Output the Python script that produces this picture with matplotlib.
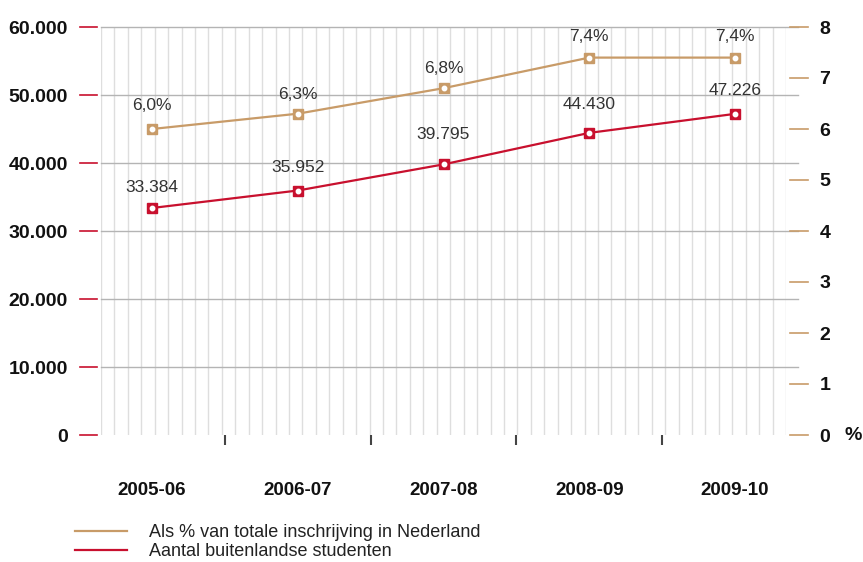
import numpy as np
import matplotlib
matplotlib.use('Agg')
import matplotlib.pyplot as plt
import matplotlib.transforms as mtransforms

plt.rcParams['font.family'] = ['Liberation Sans', 'DejaVu Sans']

# data
years = ['2005-06', '2006-07', '2007-08', '2008-09', '2009-10']
students = [33384, 35952, 39795, 44430, 47226]  # aantal buitenlandse studenten
percent = [6.0, 6.3, 6.8, 7.4, 7.4]  # als % van totale inschrijving
left_ticks = [0, 10000, 20000, 30000, 40000, 50000, 60000]
right_ticks = [0, 1, 2, 3, 4, 5, 6, 7, 8]

red = '#c8102e'
tan = '#c89b68'
gridgray = '#b4b4b4'
vgray = '#dedede'
textgray = '#333333'

# label offsets above points (pixels)
red_off = [20, 23, 30, 28, 23]
tan_off = [24, 19, 20, 21, 21]

def nl_thousands(v):
    return '{:,}'.format(int(v)).replace(',', '.')

def nl_pct(v):
    return '{:.1f}%'.format(v).replace('.', ',')

fig = plt.figure(figsize=(8.63, 5.62), dpi=100)
ax = fig.add_axes([101/863, 1-435/562, 685/863, 408/562])
ax2 = ax.twinx()

x = np.arange(len(years))
ax.set_xlim(-0.35, 4.35)
ax.set_ylim(0, 60000)
ax2.set_ylim(0, 8)

for s in ['top', 'bottom', 'left', 'right']:
    ax.spines[s].set_visible(False)
    ax2.spines[s].set_visible(False)

# light vertical grid
for gx in np.linspace(-0.35, 4.35, 52):
    ax.plot([gx, gx], [0, 60000], color=vgray, lw=1, zorder=0)

# horizontal grid, extends a little past the right edge
bt = mtransforms.blended_transform_factory(ax.transAxes, ax.transData)
for t in left_ticks[1:]:
    ax.plot([0, 1.0175], [t, t], color=gridgray, lw=1, transform=bt, clip_on=False, zorder=1)

# left ticks (red, detached from the plot)
for t in left_ticks:
    ax.plot([-0.0307, -0.0058], [t, t], color=red, lw=1.2, transform=bt, clip_on=False)
ax.set_yticks(left_ticks)
ax.set_yticklabels([nl_thousands(t) if t else '0' for t in left_ticks],
                   fontsize=14, fontweight='bold', color='#111111')
ax.tick_params(axis='y', length=0, pad=24)

# right ticks (tan)
bt2 = mtransforms.blended_transform_factory(ax2.transAxes, ax2.transData)
for t in right_ticks:
    ax2.plot([1.0058, 1.032], [t, t], color=tan, lw=1.2, transform=bt2, clip_on=False)
ax2.set_yticks(right_ticks)
ax2.set_yticklabels([str(t) for t in right_ticks], fontsize=14, fontweight='bold', color='#111111')
ax2.tick_params(axis='y', length=0, pad=24)
ax2.text(1.0855, 0, '%', transform=bt2, fontsize=14, fontweight='bold', va='center', ha='left',
         color='#111111')

# category axis
ax.set_xticks(x)
ax.set_xticklabels(years, fontsize=13.5, fontweight='bold', color='#111111')
ax.set_xticks(x[:-1] + 0.5, minor=True)
ax.tick_params(axis='x', which='major', length=0, pad=34)
ax.tick_params(axis='x', which='minor', length=7, width=1.5, color='#444444', direction='out')

# series
l_red, = ax.plot(x, students, color=red, lw=1.6, zorder=3, label='Aantal buitenlandse studenten')
ax.plot(x, students, ls='none', marker='s', ms=7.5, mfc=red, mec=red, zorder=4)
ax.plot(x, students, ls='none', marker='o', ms=3.2, mfc='white', mec='white', zorder=5)

l_tan, = ax2.plot(x, percent, color=tan, lw=1.6, zorder=3, label='Als % van totale inschrijving in Nederland')
ax2.plot(x, percent, ls='none', marker='s', ms=7.5, mfc=tan, mec=tan, zorder=4)
ax2.plot(x, percent, ls='none', marker='o', ms=3.2, mfc='white', mec='white', zorder=5)

for xi, v, off in zip(x, students, red_off):
    ax.annotate(nl_thousands(v), (xi, v), xytext=(0, off * 0.72), textcoords='offset points',
                ha='center', va='center', fontsize=12.5, color=textgray)
for xi, v, off in zip(x, percent, tan_off):
    ax2.annotate(nl_pct(v), (xi, v), xytext=(0, off * 0.72), textcoords='offset points',
                 ha='center', va='center', fontsize=12.5, color=textgray)

leg = fig.legend(handles=[l_tan, l_red], loc='upper left', bbox_to_anchor=(75/863, 1-524/562),
                 frameon=False, fontsize=13, handlelength=2.9, handletextpad=1.2,
                 labelspacing=0.12, borderpad=0, borderaxespad=0)
for t in leg.get_texts():
    t.set_color('#222222')

fig.savefig('out.png', dpi=100)
